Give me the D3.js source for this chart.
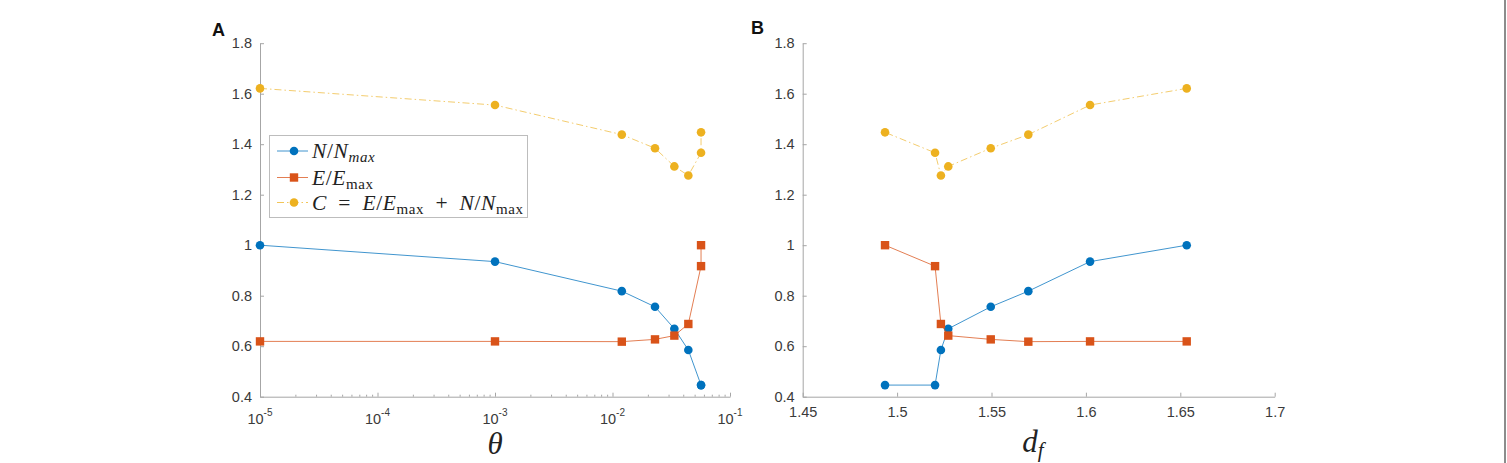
<!DOCTYPE html>
<html><head><meta charset="utf-8">
<script src="https://cdn.jsdelivr.net/npm/d3@7"></script>
<style>body{margin:0;background:#fff} svg{display:block}</style>
</head><body><svg id="c" width="1507" height="463"></svg>
<script>
// ---- data ----
const theta  = [1e-5, 1e-3, 0.012, 0.023, 0.0336, 0.0442, 0.0567, 0.0567];
const df     = [1.6534, 1.6022, 1.5695, 1.5496, 1.5271, 1.5232, 1.5201, 1.4936];
const nRatio = [1.0, 0.935, 0.818, 0.756, 0.669, 0.585, 0.446, 0.446];
const eRatio = [0.619, 0.619, 0.618, 0.627, 0.642, 0.688, 0.917, 1.0];
const cSum   = [1.621, 1.555, 1.438, 1.384, 1.312, 1.276, 1.366, 1.447];
const yTicks = [0.4, 0.6, 0.8, 1, 1.2, 1.4, 1.6, 1.8];
const thetaTicks = [1e-5, 1e-4, 1e-3, 1e-2, 1e-1];
const thetaTickExp = ["-5", "-4", "-3", "-2", "-1"];
const dfTicks = [1.45, 1.5, 1.55, 1.6, 1.65, 1.7];
const panelLabels = ["A", "B"];

const COL = {N: "#0072BD", E: "#D95319", C: "#EDB120"};
const AX = "#a6a6a6", TXT = "#3a3a3a";
const sansF = "'Liberation Sans', Arial, Helvetica, sans-serif";
const serifF = "'Liberation Serif', 'Times New Roman', serif";

const svg = d3.select("#c");
svg.append("rect").attr("width",1507).attr("height",463).attr("fill","#fff");
svg.append("rect").attr("x",1504).attr("y",0).attr("width",2).attr("height",463).attr("fill","#8c8c8c");

const yA = d3.scaleLinear().domain([0.4, 1.8]).range([396.7, 43.2]);
const xA = d3.scaleLog().domain([1e-5, 1e-1]).range([260, 730]);
const xB = d3.scaleLinear().domain([1.45, 1.7]).range([802.7, 1274.7]);

function styleAxis(g){
  g.select(".domain").attr("stroke", AX).attr("stroke-width", 1);
  g.selectAll(".tick line").attr("stroke", AX);
  g.selectAll(".tick text").attr("fill", TXT).attr("font-family", sansF).attr("font-size", 14.5);
}

function yAxis(x0){
  const g = svg.append("g").attr("transform", `translate(${x0},0)`)
    .call(d3.axisLeft(yA).tickValues(yTicks).tickSize(-4).tickSizeOuter(0).tickPadding(8)
      .tickFormat(d => String(+d.toFixed(1))));
  styleAxis(g);
}
yAxis(260); yAxis(802.7);

// A x-axis (log)
{
  const y0 = yA.range()[0];
  const g = svg.append("g").attr("transform", `translate(0,${y0})`)
    .call(d3.axisBottom(xA).tickValues(thetaTicks).tickSize(-4).tickSizeOuter(0).tickFormat(""));
  styleAxis(g);
  const minor = [];
  for (let e = -5; e < -1; e++) for (let m = 2; m <= 9; m++) minor.push(m * Math.pow(10, e));
  const gm = svg.append("g").attr("transform", `translate(0,${y0})`)
    .call(d3.axisBottom(xA).tickValues(minor).tickSize(-2).tickSizeOuter(0).tickFormat(""));
  gm.select(".domain").remove();
  gm.selectAll(".tick line").attr("stroke", AX);
  const lab = svg.append("g");
  thetaTicks.forEach((v, i) => {
    const t = lab.append("text").attr("x", xA(v)).attr("y", y0 + 27)
      .attr("text-anchor", "middle").attr("font-family", sansF).attr("font-size", 14.5).attr("fill", TXT);
    t.append("tspan").text("10");
    t.append("tspan").attr("font-size", 10).attr("dy", -8).text(thetaTickExp[i]);
  });
}
// B x-axis
{
  const g = svg.append("g").attr("transform", `translate(0,${yA.range()[0]})`)
    .call(d3.axisBottom(xB).tickValues(dfTicks).tickSize(-4).tickSizeOuter(0).tickPadding(10)
      .tickFormat(d => String(+d.toFixed(2))));
  styleAxis(g);
}

function drawSeries(xs, ys, xs_scale, color, marker, dash, op){
  const pts = xs.map((x, i) => [xs_scale(x), yA(ys[i])]);
  svg.append("path").attr("d", d3.line()(pts)).attr("fill", "none")
    .attr("stroke", color).attr("stroke-width", 1).attr("stroke-opacity", op || 0.75)
    .attr("stroke-dasharray", dash || null);
  drawMarkers(pts, color, marker);
}
function drawMarkers(pts, color, marker){
  pts.forEach(p => {
    if (marker === "circle") svg.append("circle").attr("cx", p[0]).attr("cy", p[1]).attr("r", 4.3).attr("fill", color);
    else svg.append("rect").attr("x", p[0] - 4.2).attr("y", p[1] - 4.2).attr("width", 8.4).attr("height", 8.4).attr("fill", color);
  });
}
const DASHDOT = "7,3,1.5,3";
// Panel A
drawSeries(theta, cSum, xA, COL.C, "circle", DASHDOT, 0.65);
drawSeries(theta, nRatio, xA, COL.N, "circle");
drawSeries(theta, eRatio, xA, COL.E, "square");
// Panel B
drawSeries(df, cSum, xB, COL.C, "circle", DASHDOT, 0.65);
drawSeries(df, nRatio, xB, COL.N, "circle");
drawSeries(df, eRatio, xB, COL.E, "square");

// Legend
{
  const lg = svg.append("g");
  lg.append("rect").attr("x", 269.5).attr("y", 135.5).attr("width", 258).attr("height", 82)
    .attr("fill", "#fff").attr("stroke", "#bdbdbd").attr("stroke-width", 1);
  const rows = [
    {c: COL.N, m: "circle", y: 151, parts: [{t:"N", i:1}, {t:"/", i:0}, {t:"N", i:1}, {t:"max", i:1, s:1}]},
    {c: COL.E, m: "square", y: 177.5, parts: [{t:"E", i:1}, {t:"/", i:0}, {t:"E", i:1}, {t:"max", i:0, s:1}]},
    {c: COL.C, m: "circle", y: 202.5, dash: DASHDOT, parts: [{t:"C", i:1}, {t:"\u2002=\u2002", i:0}, {t:"E", i:1}, {t:"/", i:0}, {t:"E", i:1}, {t:"max", i:0, s:1}, {t:"\u2002+\u2002", i:0}, {t:"N", i:1}, {t:"/", i:0}, {t:"N", i:1}, {t:"max", i:0, s:1}]}
  ];
  rows.forEach(r => {
    lg.append("line").attr("x1", 277).attr("x2", 308).attr("y1", r.y).attr("y2", r.y)
      .attr("stroke", r.c).attr("stroke-opacity", 0.75).attr("stroke-dasharray", r.dash || null);
    if (r.m === "circle") lg.append("circle").attr("cx", 294).attr("cy", r.y).attr("r", 4.3).attr("fill", r.c);
    else lg.append("rect").attr("x", 294 - 4.2).attr("y", r.y - 4.2).attr("width", 8.4).attr("height", 8.4).attr("fill", r.c);
    const t = lg.append("text").attr("x", 312).attr("y", r.y + 7).attr("font-family", serifF)
      .attr("font-size", 21.5).attr("fill", "#222").attr("letter-spacing", 0.6);
    let sub = false;
    r.parts.forEach(p => {
      const ts = t.append("tspan").text(p.t).attr("font-style", p.i ? "italic" : "normal").style("white-space", "pre");
      if (p.s) ts.attr("font-size", 15);
      if (p.s && !sub) { ts.attr("dy", 4); sub = true; }
      else if (!p.s && sub) { ts.attr("dy", -4); sub = false; }
    });
  });
}

// Axis titles
svg.append("text").attr("x", 495).attr("y", 454).attr("text-anchor", "middle")
  .attr("font-family", serifF).attr("font-style", "italic").attr("font-size", 31).attr("fill", "#222").text("θ");
{
  const t = svg.append("text").attr("x", 1033).attr("y", 452).attr("text-anchor", "middle")
    .attr("font-family", serifF).attr("font-style", "italic").attr("font-size", 31).attr("fill", "#222");
  t.append("tspan").text("d");
  t.append("tspan").attr("font-size", 21).attr("dy", 5).text("f");
}
// Panel labels
svg.append("text").attr("x", 212).attr("y", 36).attr("font-family", sansF).attr("font-weight", "bold")
  .attr("font-size", 18).attr("fill", "#111").text(panelLabels[0]);
svg.append("text").attr("x", 751).attr("y", 34).attr("font-family", sansF).attr("font-weight", "bold")
  .attr("font-size", 18).attr("fill", "#111").text(panelLabels[1]);
</script>
</body></html>
